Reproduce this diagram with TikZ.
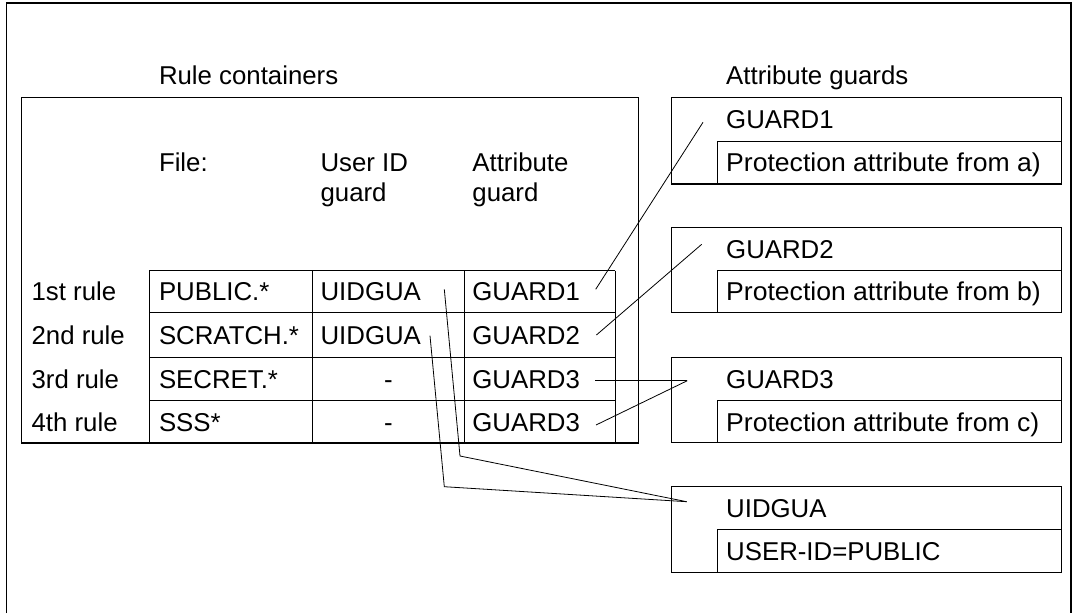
\documentclass[tikz,border=0pt]{standalone}
\usepackage{fontspec}
\setmainfont{Liberation Sans}
\begin{document}
\begin{tikzpicture}[x=1pt,y=-1pt,line width=1.2pt,
  txt/.style={anchor=base west,inner sep=0pt,font=\fontsize{25.8}{30}\selectfont},
  ctxt/.style={txt,anchor=base},
  conn/.style={line width=0.8pt,line join=miter}]
\useasboundingbox (0,0) rectangle (1076,613);
% outer frame (open at the bottom)
\draw (6.2,613) -- (6.2,3) -- (1071,3) -- (1071,613);
% headings
\node[txt] (rc) at (158.4,84) {Rule containers};
\node[txt] (ag) at (725.6,84) {Attribute guards};
% rule container
\draw (21.3,443) rectangle (638.1,97.3);
\node[txt] (hfile) at (158.4,171.7) {File:};
\node[txt] (huid1) at (320,171.7) {User ID};
\node[txt] (huid2) at (320,201.7) {guard};
\node[txt] (hag1) at (471.8,171.7) {Attribute};
\node[txt] (hag2) at (471.8,201.7) {guard};
% table grid
\foreach \yy in {270.7,312.7,357.3,400.7} \draw (149.4,\yy) -- (615.2,\yy);
\foreach \xx in {149.4,312.3,464.2,615.2} \draw (\xx,270.7) -- (\xx,443);
% rows
\node[txt] (r1) at (31,300.9) {1st rule};
\node[txt] (r2) at (31,344.2) {2nd rule};
\node[txt] (r3) at (31,388.2) {3rd rule};
\node[txt] (r4) at (31,431) {4th rule};
\node[txt] (f1) at (158.4,300.9) {PUBLIC.*};
\node[txt] (f2) at (158.4,344.2) {SCRATCH.*};
\node[txt] (f3) at (158.4,388.2) {SECRET.*};
\node[txt] (f4) at (158.4,431) {SSS*};
\node[txt] (u1) at (320,300.9) {UIDGUA};
\node[txt] (u2) at (320,344.2) {UIDGUA};
\node[ctxt] (u3) at (388.3,388.2) {-};
\node[ctxt] (u4) at (388.3,431) {-};
\node[txt] (a1) at (471.8,300.9) {GUARD1};
\node[txt] (a2) at (471.8,344.2) {GUARD2};
\node[txt] (a3) at (471.8,388.2) {GUARD3};
\node[txt] (a4) at (471.8,431) {GUARD3};
% attribute guard boxes
\foreach \t/\m/\b in {97.3/141.3/184, 227.7/270.7/312.7, 357.3/400.7/442.7, 486.7/529.3/572.7}{
  \draw (671.3,\t) rectangle (1061.4,\b);
  \draw (1061.4,\m) -- (717.1,\m) -- (717.1,\b);
}
\node[txt] (g1) at (725.6,128.5) {GUARD1};
\node[txt] (p1) at (725.6,171.9) {\scalebox{1.03}[1]{Protection attribute from a)}};
\node[txt] (g2) at (725.6,258.4) {GUARD2};
\node[txt] (p2) at (725.6,300.9) {\scalebox{1.03}[1]{Protection attribute from b)}};
\node[txt] (g3) at (725.6,388.2) {GUARD3};
\node[txt] (p3) at (725.6,431) {\scalebox{1.03}[1]{Protection attribute from c)}};
\node[txt] (g4) at (725.6,517.2) {UIDGUA};
\node[txt] (p4) at (725.6,560.2) {USER-ID=PUBLIC};
% connector ends
\coordinate (a1o) at (595.7,289.3);
\coordinate (g1i) at (703,122.3);
\coordinate (a2o) at (596.4,335);
\coordinate (g2i) at (701.7,244.3);
\coordinate (a3o) at (595,380.7);
\coordinate (a4o) at (596,425);
\coordinate (g3i) at (687.3,380.7);
\coordinate (u1o) at (444.3,289.3);
\coordinate (u1k) at (460,456);
\coordinate (u2o) at (430,335.7);
\coordinate (u2k) at (444.3,486.7);
\coordinate (g4i) at (686.7,501.7);
% connectors
\draw[conn] (a1o) -- (g1i);
\draw[conn] (a2o) -- (g2i);
\draw[conn] (a3o) -- (g3i);
\draw[conn] (a4o) -- (g3i);
\draw[conn] (u1o) -- (u1k) -- (g4i);
\draw[conn] (u2o) -- (u2k) -- (g4i);
\end{tikzpicture}
\end{document}
